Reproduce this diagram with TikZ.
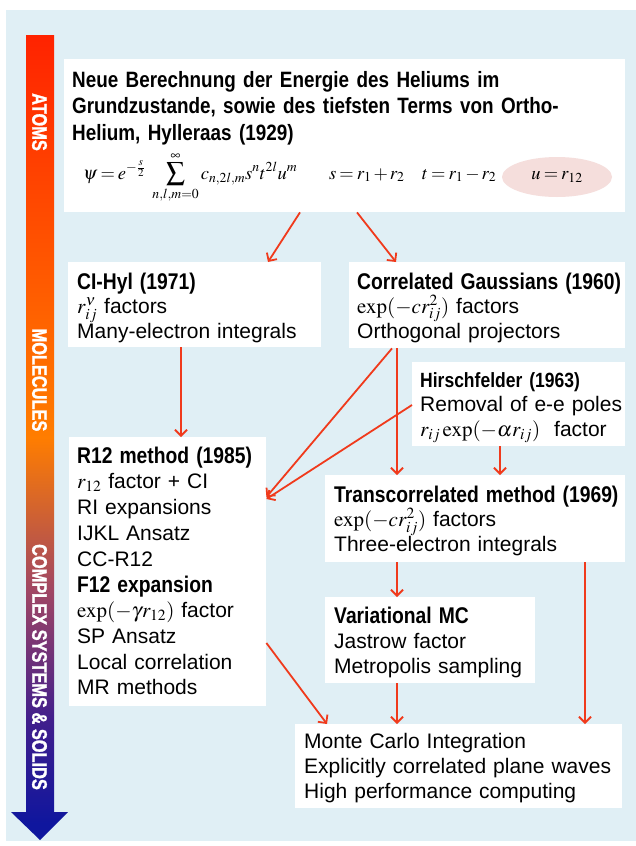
\documentclass[tikz,border=0pt]{standalone}
\usepackage{mathptmx}
\usepackage[no-math]{fontspec}
\setmainfont{Liberation Sans}
\newfontfamily\condfont{Liberation Sans}[FakeStretch=0.85]
\newfontfamily\barfontfam{Liberation Sans Bold}[FakeStretch=0.78, FakeBold=1.2]
\usetikzlibrary{arrows.meta,shapes.geometric}
\definecolor{panelblue}{RGB}{224,239,245}
\definecolor{arrred}{RGB}{240,58,28}
\definecolor{ellpink}{RGB}{245,222,220}
\definecolor{bred}{RGB}{255,35,0}
\definecolor{borange}{RGB}{255,125,0}
\definecolor{bmauve}{RGB}{160,70,100}
\definecolor{bviolet}{RGB}{65,30,140}
\definecolor{bblue}{RGB}{15,22,158}
\pgfdeclareverticalshading{barshade}{100bp}{color(0bp)=(bblue); color(26bp)=(bblue); color(32.5bp)=(bviolet); color(40.5bp)=(bmauve); color(50bp)=(borange); color(75bp)=(bred); color(100bp)=(bred)}
\newcommand\bodyfont{\fontsize{21}{25}\selectfont\lineskiplimit=-60pt\relax}
\newcommand\ttl{\condfont\bfseries\fontsize{22.7}{25}\selectfont}
\newcommand\ttlsmall{\condfont\bfseries\fontsize{20.6}{25}\selectfont}
\newcommand\fmlfont{\fontsize{18.5}{22}\selectfont\thickmuskip=3mu\medmuskip=2mu\relax}
\tikzset{
  wbox/.style={fill=white, inner sep=0pt, anchor=north west},
  txt/.style={anchor=base west, inner sep=0pt, text width=560pt, align=left, font=\bodyfont},
  fml/.style={anchor=base west, inner sep=0pt, font=\fmlfont},
  arr/.style={draw=arrred, line width=1.8pt, -{Straight Barb[length=6pt,width=12pt,line width=1.8pt]}},
  barlbl/.style={rotate=-90, inner sep=0pt, text=white, font=\barfontfam\fontsize{21}{21}\selectfont},
}
\begin{document}
\begin{tikzpicture}[x=1pt,y=-1pt]
\useasboundingbox (0,0) rectangle (636,846);
\fill[white] (0,0) rectangle (636,846);
\fill[panelblue] (6,10) rectangle (636,841);
% progress bar
\path[shading=barshade] (26,35) -- (54,35) -- (54,812) -- (68,812) -- (40,840) -- (11,812) -- (26,812) -- cycle;
\node[barlbl] (atoms) at (39.5,122) {ATOMS};
\node[barlbl] (mol) at (39.5,380) {MOLECULES};
\node[barlbl] (cplx) at (39.5,667) {COMPLEX SYSTEMS \& SOLIDS};
% main box
\node[wbox, minimum width=561pt, minimum height=153pt] (main) at (64,59) {};
\node[txt, font=\condfont\bfseries\fontsize{22.2}{26.5}\selectfont] (maint) at (72,87) {Neue Berechnung der Energie des Heliums im\\Grundzustande, sowie des tiefsten Terms von Ortho-\\Helium, Hylleraas (1929)};
\node[fml] (psi) at (83,179) {$\displaystyle \psi = e^{-\frac{s}{2}}\ \sum_{n,l,m=0}^{\infty} c_{n,2l,m}s^n t^{2l} u^m$};
\node[fml] (sdef) at (329,179) {$s=r_1+r_2$};
\node[fml] (tdef) at (422,179) {$t=r_1-r_2$};
\node[ellipse, fill=ellpink, minimum width=110pt, minimum height=40pt, inner sep=0pt, font=\fmlfont] (udef) at (557,177) {$u=r_{12}$};
% CI-Hyl
\node[wbox, minimum width=253pt, minimum height=85pt] (ci) at (68,262) {};
\node[txt] (cit) at (77,289) {\baselineskip=24pt{\ttl CI-Hyl (1971)}\\$r_{ij}^{\nu}$ factors\\Many-electron integrals};
% Correlated Gaussians
\node[wbox, minimum width=276pt, minimum height=86pt] (cg) at (349,262) {};
\node[txt] (cgt) at (357,289) {\baselineskip=24pt{\ttl Correlated Gaussians (1960)}\\$\exp(-cr_{ij}^{2})$ factors\\Orthogonal projectors};
% Hirschfelder
\node[wbox, minimum width=213pt, minimum height=84pt] (hir) at (412,362) {};
\node[txt] (hirt) at (420,387) {\baselineskip=24.5pt{\ttlsmall Hirschfelder (1963)}\\Removal of e-e poles\\$r_{ij}\exp(-\alpha r_{ij})$\ \ factor};
% R12
\node[wbox, minimum width=197pt, minimum height=269pt] (r12) at (69,437) {};
\node[txt] (r12t) at (77,463) {\baselineskip=25.8pt{\ttl R12 method (1985)}\\$r_{12}$ factor + CI\\RI expansions\\IJKL Ansatz\\CC-R12\\{\ttl F12 expansion}\\$\exp(-\gamma r_{12})$ factor\\SP Ansatz\\Local correlation\\MR methods};
% Transcorrelated
\node[wbox, minimum width=300pt, minimum height=87pt] (tc) at (325,475) {};
\node[txt] (tct) at (334,502) {\baselineskip=24.5pt{\ttl Transcorrelated method (1969)}\\$\exp(-cr_{ij}^{2})$ factors\\Three-electron integrals};
% Variational MC
\node[wbox, minimum width=210pt, minimum height=86pt] (vmc) at (325,597) {};
\node[txt] (vmct) at (334,623) {\baselineskip=25pt{\ttl Variational MC}\\Jastrow factor\\Metropolis sampling};
% Monte Carlo
\node[wbox, minimum width=327pt, minimum height=84pt] (mc) at (295,724) {};
\node[txt] (mct) at (304,748) {\baselineskip=25pt Monte Carlo Integration\\Explicitly correlated plane waves\\High performance computing};
% arrows
\draw[arr] ([xshift=236pt]main.south west) -- ([xshift=200pt]ci.north west);
\draw[arr] ([xshift=293pt]main.south west) -- ([xshift=47pt]cg.north west);
\draw[arr] ([xshift=113pt]ci.south west) -- ([xshift=112pt]r12.north west);
\draw[arr] ([xshift=43pt]cg.south west) -- ([yshift=-60pt]r12.north east);
\draw[arr] ([yshift=-43pt]hir.north west) -- ([yshift=-62pt]r12.north east);
\draw[arr] ([xshift=48pt]cg.south west) -- ([xshift=72pt]tc.north west);
\draw[arr] ([xshift=88pt]hir.south west) -- ([xshift=175pt]tc.north west);
\draw[arr] ([xshift=72pt]tc.south west) -- ([xshift=72pt]vmc.north west);
\draw[arr] ([xshift=260pt]tc.south west) -- ([xshift=290pt]mc.north west);
\draw[arr] ([xshift=72pt]vmc.south west) -- ([xshift=102pt]mc.north west);
\draw[arr] ([yshift=-206pt]r12.north east) -- ([xshift=32pt]mc.north west);
\end{tikzpicture}
\end{document}
